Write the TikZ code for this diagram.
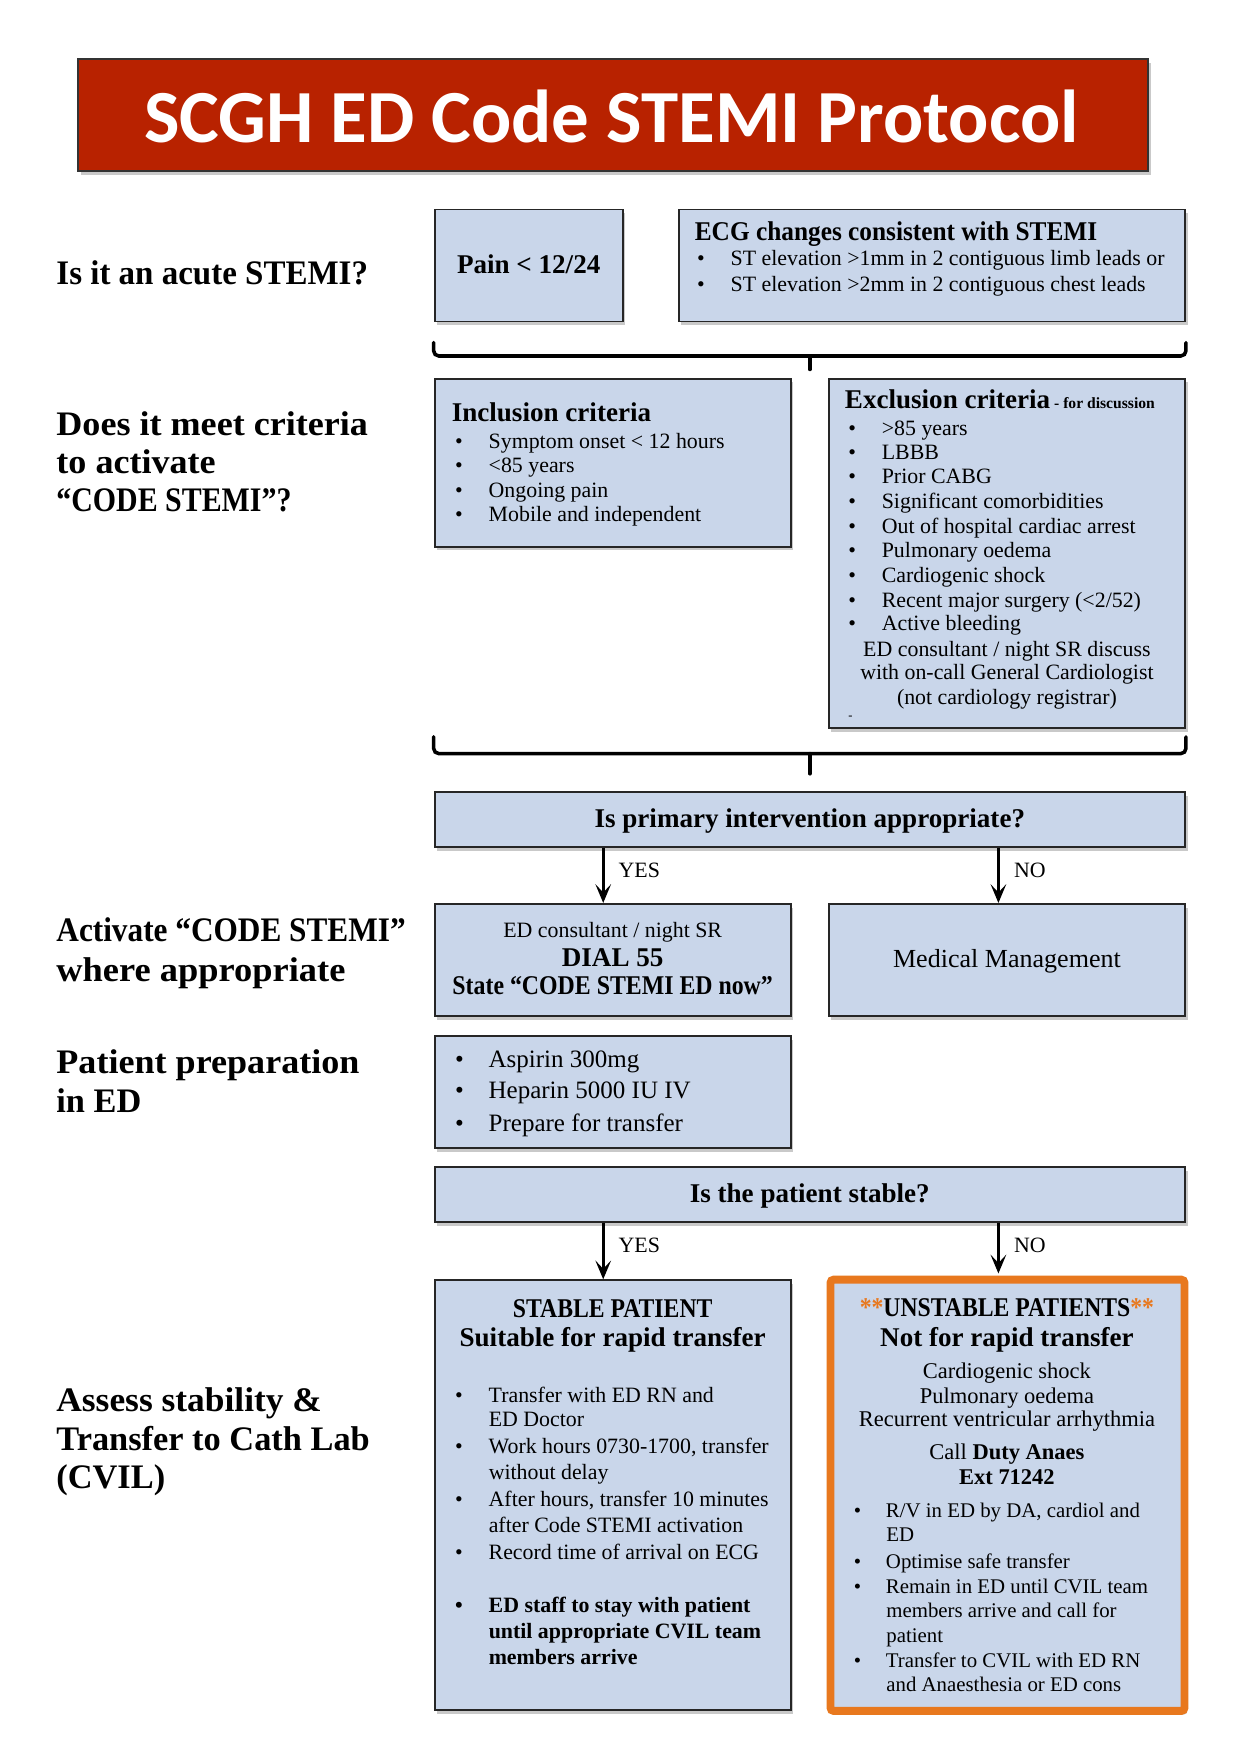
\documentclass[tikz,border=0pt]{standalone}
\usepackage{fontspec}
\setmainfont{Liberation Serif}
\newfontfamily\titlefont{Carlito}
\usetikzlibrary{fit,shadows,arrows.meta,calc}
\definecolor{boxblue}{RGB}{201,214,234}
\definecolor{titlered}{RGB}{184,34,0}
\definecolor{orng}{RGB}{232,120,30}
\newcommand\fbody{\fontsize{10.5}{12}\selectfont}
\newcommand\fhead{\bfseries\fontsize{13}{15}\selectfont}
\newcommand\flabel{\bfseries\fontsize{16.5}{19}\selectfont}
\newcommand\mybul[5][]{\node[txt,#1] (#2) at (#3,#4) {\makebox[16.1pt][l]{\textbullet}#5};}
\newcommand\myubul[5][]{\node[txt,#1] (#2) at (#3,#4) {\makebox[15.4pt][l]{\textbullet}#5};}
\newcommand\myln[5][]{\node[txt,#1] (#2) at (#3,#4) {#5};}
\newcommand\myctr[5][]{\node[ctxt,#1] (#2) at (#3,#4) {#5};}
\newcommand\sx[2]{\scalebox{#1}[1]{#2}}
\begin{document}
\begin{tikzpicture}[x=0.5377pt,y=-0.5377pt,
 box/.style={draw=black!85,line width=0.9pt,fill=boxblue,inner sep=0pt,
   drop shadow={shadow xshift=1.2pt,shadow yshift=-1.8pt,opacity=0.35,fill=black!60}},
 txt/.style={inner sep=0pt,anchor=base west,font=\fbody},
 ctxt/.style={inner sep=0pt,anchor=base,font=\fbody},
 lab/.style={txt,font=\flabel},
 ubody/.style={font=\fontsize{10}{12}\selectfont},
 brace/.style={line width=1.7pt,rounded corners=2.5pt,line cap=round},
 arr/.style={line width=1.3pt,-{Stealth[length=9pt,width=7.5pt,inset=4pt]}},
]
\fill[white] (0,0) rectangle (1106,1566);
\useasboundingbox (0,0) rectangle (1106,1566);

% title
\node[fit={(70,53) (1025,153)},inner sep=0pt,fill=titlered,draw=black!80,line width=1pt,
  drop shadow={shadow xshift=1.2pt,shadow yshift=-1.8pt,opacity=0.35,fill=black!60}] (title) {};
\node[inner sep=0pt,anchor=base,text=white,font=\titlefont\bfseries\fontsize{36}{40}\selectfont] (titletxt) at (546,127) {SCGH ED Code STEMI Protocol};

% left labels
\myln[lab]{la1}{50}{254}{\sx{0.96}{Is it an acute STEMI?}}
\myln[lab]{lb1}{50}{389}{\sx{1.05}{Does it meet criteria}}
\myln[lab]{lb2}{50}{423}{\sx{1.05}{to activate}}
\myln[lab]{lb3}{50}{457}{\sx{0.87}{“CODE STEMI”?}}
\myln[lab]{lc1}{50}{841}{\sx{0.91}{Activate “CODE STEMI”}}
\myln[lab]{lc2}{50}{876}{\sx{1.06}{where appropriate}}
\myln[lab]{ld1}{50}{958}{\sx{1.05}{Patient preparation}}
\myln[lab]{ld2}{50}{993}{in ED}
\myln[lab]{le1}{50}{1260}{\sx{1.03}{Assess stability \&}}
\myln[lab]{le2}{50}{1295}{Transfer to Cath Lab}
\myln[lab]{le3}{50}{1329}{(CVIL)}

% row 1
\node[box,fit={(388,187) (556,287)}] (pain) {};
\myctr[font=\fhead]{paint}{472}{244}{Pain < 12/24}
\node[box,fit={(606,187) (1058,287)}] (ecg) {};
\myln[font=\fhead]{ecgh}{620}{215}{\sx{0.935}{ECG changes consistent with STEMI}}
\mybul{ecg1}{622}{237}{ST elevation >1mm in 2 contiguous limb leads or}
\mybul{ecg2}{622}{260}{ST elevation >2mm in 2 contiguous chest leads}

% brace 1
\draw[brace] ($(pain.south west)+(0,18)$) -- ($(pain.south west)+(0,30)$) -- ($(ecg.south east)+(0,30)$) -- ($(ecg.south east)+(0,18)$);
\draw[brace] ($(pain.south west)!0.5!(ecg.south east)+(0,30)$) -- ++(0,12);

% row 2
\node[box,fit={(388,338) (706,488)}] (incl) {};
\myln[font=\fhead]{inclh}{403}{376}{Inclusion criteria}
\mybul{in1}{406}{400}{Symptom onset < 12 hours}
\mybul{in2}{406}{422}{<85 years}
\mybul{in3}{406}{444}{Ongoing pain}
\mybul{in4}{406}{466}{Mobile and independent}

\node[box,fit={(740,338) (1058,650)}] (excl) {};
\myln{exclh}{754}{365}{{\fhead Exclusion criteria}{\bfseries\fontsize{7.5}{9}\selectfont\ - for discussion}}
\mybul{ex1}{757}{389}{>85 years}
\mybul{ex2}{757}{410}{LBBB}
\mybul{ex3}{757}{432}{Prior CABG}
\mybul{ex4}{757}{454}{Significant comorbidities}
\mybul{ex5}{757}{476}{Out of hospital cardiac arrest}
\mybul{ex6}{757}{498}{Pulmonary oedema}
\mybul{ex7}{757}{520}{Cardiogenic shock}
\mybul{ex8}{757}{542}{Recent major surgery (<2/52)}
\mybul{ex9}{757}{563}{Active bleeding}
\myctr{exc1}{899}{586}{ED consultant / night SR discuss}
\myctr{exc2}{899}{607}{with on-call General Cardiologist}
\myctr{exc3}{899}{629}{(not cardiology registrar)}
\myln[font=\fontsize{6}{7}\selectfont]{exdash}{757}{642}{-}

% brace 2
\draw[brace] ($(incl.west |- excl.south)+(0,7)$) -- ($(incl.west |- excl.south)+(0,22)$) -- ($(excl.south east)+(0,22)$) -- ($(excl.south east)+(0,7)$);
\draw[brace] ($(incl.west |- excl.south)!0.5!(excl.south east)+(0,22)$) -- ++(0,18);

% question 1
\node[box,fit={(388,707) (1058,756)}] (q1) {};
\myctr[font=\fhead]{q1t}{723}{739}{Is primary intervention appropriate?}

\node[box,fit={(388,807) (706,907)}] (ed) {};
\myctr{ed1}{547}{837}{ED consultant / night SR}
\myctr[font=\fhead]{ed2}{547}{863}{DIAL 55}
\myctr[font=\fhead]{ed3}{547}{888}{\sx{0.88}{State “CODE STEMI ED now”}}
\node[box,fit={(740,807) (1058,907)}] (med) {};
\myctr[font=\fontsize{12.5}{14}\selectfont]{medt}{899}{864}{Medical Management}

\coordinate (ya) at ($(q1.south west)!0.2254!(q1.south east)$);
\coordinate (na) at ($(q1.south west)!0.7507!(q1.south east)$);
\draw[arr] (ya) -- (ya |- ed.north);
\draw[arr] (na) -- (na |- med.north);
\myln{yes1}{552}{783}{YES}
\myln{no1}{905}{783}{NO}

% preparation
\node[box,fit={(388,925) (706,1025)}] (asp) {};
\mybul[font=\fontsize{12}{14}\selectfont]{as1}{406}{953}{Aspirin 300mg}
\mybul[font=\fontsize{12}{14}\selectfont]{as2}{406}{981}{Heparin 5000 IU IV}
\mybul[font=\fontsize{12}{14}\selectfont]{as3}{406}{1010}{Prepare for transfer}

% question 2
\node[box,fit={(388,1042) (1058,1091)}] (q2) {};
\myctr[font=\fhead]{q2t}{723}{1074}{Is the patient stable?}

\node[box,fit={(388,1143) (706,1527)}] (stab) {};
\myctr[font=\fhead]{st1}{547}{1176}{\sx{0.875}{STABLE PATIENT}}
\myctr[font=\fhead]{st2}{547}{1202}{Suitable for rapid transfer}
\mybul{sb1}{406}{1252}{Transfer with ED RN and}
\myln{sb1b}{436}{1274}{ED Doctor}
\mybul{sb2}{406}{1298}{Work hours 0730-1700, transfer}
\myln{sb2b}{436}{1321}{without delay}
\mybul{sb3}{406}{1345}{After hours, transfer 10 minutes}
\myln{sb3b}{436}{1368}{after Code STEMI activation}
\mybul{sb4}{406}{1392}{Record time of arrival on ECG}
\mybul[font=\bfseries\fontsize{10.5}{12}\selectfont]{sb5}{406}{1440}{ED staff to stay with patient}
\myln[font=\bfseries\fontsize{10.5}{12}\selectfont]{sb5b}{436}{1463}{until appropriate CVIL team}
\myln[font=\bfseries\fontsize{10.5}{12}\selectfont]{sb5c}{436}{1486}{members arrive}

\node[fit={(741.5,1142.5) (1057.5,1527.5)},inner sep=0pt,draw=orng,line width=3.8pt,fill=boxblue,rounded corners=1.5pt,
  drop shadow={shadow xshift=1.2pt,shadow yshift=-1.8pt,opacity=0.35,fill=black!60}] (unst) {};
\myctr[font=\fhead]{un1}{899}{1175}{\sx{0.875}{{\color{orng}**}UNSTABLE PATIENTS{\color{orng}**}}}
\myctr[font=\fhead]{un2}{899}{1202}{Not for rapid transfer}
\myctr[font=\fontsize{10.8}{12}\selectfont]{un3}{899}{1231}{Cardiogenic shock}
\myctr[font=\fontsize{10.8}{12}\selectfont]{un4}{899}{1253}{Pulmonary oedema}
\myctr[font=\fontsize{10.8}{12}\selectfont]{un5}{899}{1274}{Recurrent ventricular arrhythmia}
\myctr[font=\fontsize{10.8}{12}\selectfont]{un6}{899}{1303}{Call \textbf{Duty Anaes}}
\myctr[font=\bfseries\fontsize{10.8}{12}\selectfont]{un7}{899}{1325}{Ext 71242}
\myubul[ubody]{ub1}{762}{1355}{R/V in ED by DA, cardiol and}
\myln[ubody]{ub1b}{791}{1376}{ED}
\myubul[ubody]{ub2}{762}{1400}{Optimise safe transfer}
\myubul[ubody]{ub3}{762}{1423}{Remain in ED until CVIL team}
\myln[ubody]{ub3b}{791}{1444}{members arrive and call for}
\myln[ubody]{ub3c}{791}{1466}{patient}
\myubul[ubody]{ub4}{762}{1489}{Transfer to CVIL with ED RN}
\myln[ubody]{ub4b}{791}{1510}{and Anaesthesia or ED cons}

\coordinate (yb) at ($(q2.south west)!0.2254!(q2.south east)$);
\coordinate (nb) at ($(q2.south west)!0.7507!(q2.south east)$);
\draw[arr] (yb) -- (yb |- stab.north);
\draw[arr] (nb) -- ($(nb |- unst.north)+(0,-2)$);
\myln{yes2}{552}{1118}{YES}
\myln{no2}{905}{1118}{NO}
\end{tikzpicture}
\end{document}
